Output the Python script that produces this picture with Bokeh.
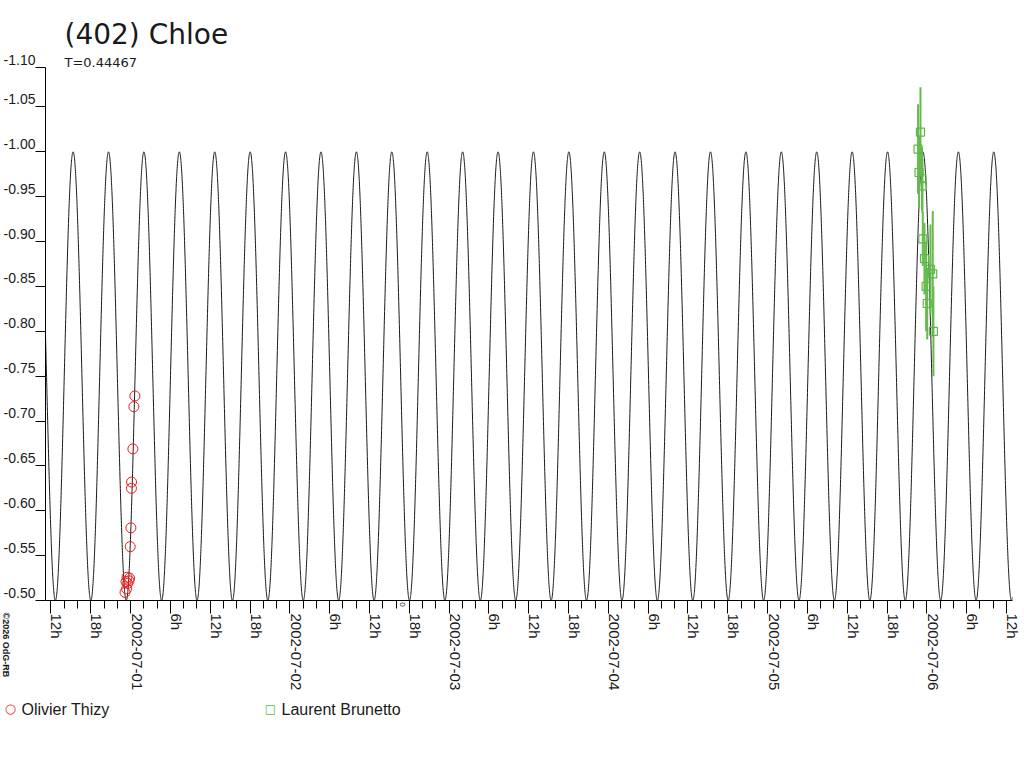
import math
import numpy as np
import pandas as pd
from bokeh.plotting import figure
from bokeh.models import FixedTicker, Range1d
from bokeh.embed import file_html
from bokeh.resources import INLINE
from bokeh.core.properties import value

# ---------------- data ----------------
title_text = "(402) Chloe"
period_text = "T=0.44467"
copyright_text = "\u00a92026 OdG-RB"

# model light curve parameters (double-peaked curve, period in days)
period_days = 0.44467
model_epoch = "2002-07-01 04:41"   # a faint extremum of the model (-0.50)
model_mean = -0.75
model_amplitude = 0.25
phase_zero_time = "2002-07-02 17:00"

x_start = "2002-06-30 11:11"
x_end = "2002-07-06 12:54"
y_bottom = -0.50
y_top = -1.094

y_tick_values = [-0.50, -0.55, -0.60, -0.65, -0.70, -0.75, -0.80, -0.85,
                 -0.90, -0.95, -1.00, -1.05, -1.094]
y_tick_labels = ["-0.50", "-0.55", "-0.60", "-0.65", "-0.70", "-0.75", "-0.80",
                 "-0.85", "-0.90", "-0.95", "-1.00", "-1.05", "-1.10"]

x_major_first = "2002-06-30 12:00"
x_major_last = "2002-07-06 12:00"
x_tick_labels = ["12h", "18h", "2002-07-01", "6h", "12h", "18h", "2002-07-02",
                 "6h", "12h", "18h", "2002-07-03", "6h", "12h", "18h",
                 "2002-07-04", "6h", "12h", "18h", "2002-07-05", "6h", "12h",
                 "18h", "2002-07-06", "6h", "12h"]

thizy_label = "Olivier Thizy"
thizy_time = ["2002-07-01 00:39", "2002-07-01 00:30", "2002-07-01 00:21",
              "2002-07-01 00:09", "2002-07-01 00:08", "2002-07-01 00:03",
              "2002-06-30 23:57", "2002-06-30 23:10", "2002-06-30 23:24",
              "2002-06-30 23:19", "2002-06-30 23:33", "2002-06-30 23:46",
              "2002-06-30 23:28", "2002-06-30 23:51"]
thizy_mag = [-0.728, -0.716, -0.669, -0.632, -0.625, -0.581, -0.560,
             -0.509, -0.513, -0.521, -0.519, -0.522, -0.526, -0.525]

brunetto_label = "Laurent Brunetto"
brunetto_time = ["2002-07-05 23:02", "2002-07-05 22:40", "2002-07-05 22:49",
                 "2002-07-05 23:16", "2002-07-05 23:20", "2002-07-05 23:23",
                 "2002-07-05 23:38", "2002-07-06 00:32", "2002-07-06 00:53",
                 "2002-07-05 23:53", "2002-07-06 00:03", "2002-07-06 00:59"]
brunetto_mag = [-1.022, -1.003, -0.977, -0.970, -0.962, -0.903, -0.881,
                -0.869, -0.864, -0.850, -0.831, -0.800]
brunetto_err = [0.050, 0.050, 0.040, 0.035, 0.030, 0.030, 0.040,
                0.050, 0.070, 0.050, 0.040, 0.050]

# ---------------- layout / style ----------------
W, H = 1020, 752
BL, BR, BT, BB = 45, 8, 67, 152          # borders around the plot frame
FONT = "Liberation Sans"
TITLE_FONT = "DejaVu Sans"
TXT = "#1a1a1a"
RED = "#ee1a1a"
GREEN = "#5cb848"

def ms(s):
    return pd.Timestamp(s).timestamp() * 1000.0

x0, x1 = ms(x_start), ms(x_end)
x_per_px = (x1 - x0) / (W - BL - BR)
y_per_px = (y_bottom - y_top) / (H - BT - BB)

x_major = [ms(t) for t in pd.date_range(x_major_first, x_major_last, freq="6h")]
x_minor = [ms(t) for t in pd.date_range(x_major_first, x_major_last, freq="2h")]

# model curve from the period
curve_t = np.linspace(x0, x1, 8000)
half_period_ms = period_days * 86400000.0 / 2.0
curve_y = model_mean + model_amplitude * np.cos(
    2 * np.pi * (curve_t - ms(model_epoch)) / half_period_ms)

rt = [ms(t) for t in thizy_time]
gt = [ms(t) for t in brunetto_time]
g_lo = [m - e for m, e in zip(brunetto_mag, brunetto_err)]
g_hi = [m + e for m, e in zip(brunetto_mag, brunetto_err)]

# ---------------- figure ----------------
p = figure(width=W, height=H, x_axis_type="datetime",
           x_range=Range1d(x0, x1), y_range=Range1d(y_bottom, y_top),
           output_backend="svg", toolbar_location=None,
           min_border_left=BL, min_border_right=BR,
           min_border_top=BT, min_border_bottom=BB)
p.xgrid.visible = False
p.ygrid.visible = False
p.outline_line_color = None
p.background_fill_color = "white"

xa = p.xaxis[0]
xa.ticker = FixedTicker(ticks=x_major, minor_ticks=x_minor)
xa.major_tick_out = 13
xa.major_tick_in = 0
xa.minor_tick_out = 8
xa.minor_tick_in = 0
xa.major_label_text_font_size = "1px"
xa.major_label_text_color = None
xa.axis_line_color = "black"
xa.major_tick_line_color = "black"
xa.minor_tick_line_color = "black"

ya = p.yaxis[0]
ya.ticker = FixedTicker(ticks=y_tick_values)
ya.major_tick_out = 10
ya.major_tick_in = 0
ya.minor_tick_line_color = None
ya.major_label_text_font_size = "1px"
ya.major_label_text_color = None
ya.axis_line_color = "black"
ya.major_tick_line_color = "black"

# model curve
p.line(curve_t, curve_y, line_color=TXT, line_width=1)

# error bars and points
p.segment(x0=gt, y0=g_lo, x1=gt, y1=g_hi, line_color="#66bb4c", line_width=2)
p.scatter(rt, thizy_mag, marker="circle", size=10, fill_color=None,
          line_color=RED, line_width=1)
p.scatter(gt, brunetto_mag, marker="square", size=8, fill_color=None,
          line_color=GREEN, line_width=1.2)

# y tick labels
p.text(x=[x0] * len(y_tick_values), y=y_tick_values, text=y_tick_labels,
       x_offset=-10, y_offset=-8, text_align="right", text_baseline="middle",
       text_font=value(FONT), text_font_size="14px", text_color=TXT,
       level="overlay")

# x tick labels (rotated, reading downwards)
p.text(x=x_major, y=[y_bottom] * len(x_major), text=x_tick_labels,
       angle=-math.pi / 2, x_offset=6, y_offset=13, text_align="left",
       text_baseline="middle", text_font=value(FONT), text_font_size="15px",
       text_color=TXT, level="overlay")

# phase-zero marker
p.text(x=[ms(phase_zero_time)], y=[y_bottom], text=["0"], angle=-math.pi / 2,
       x_offset=0, y_offset=4, text_align="center", text_baseline="middle",
       text_font=value(FONT), text_font_size="8px", text_color=TXT,
       level="overlay")

# title and period
p.text(x=[x0], y=[y_top], text=[title_text], x_offset=19, y_offset=-33,
       text_align="left", text_baseline="middle",
       text_font=value(TITLE_FONT), text_font_size="28px", text_color=TXT,
       level="overlay")
p.text(x=[x0], y=[y_top], text=[period_text], x_offset=19, y_offset=-5,
       text_align="left", text_baseline="middle",
       text_font=value(TITLE_FONT), text_font_size="13px", text_color=TXT,
       level="overlay")

# copyright (vertical, bottom-left)
p.text(x=[x0], y=[y_bottom], text=[copyright_text], angle=-math.pi / 2,
       x_offset=-40, y_offset=12, text_align="left", text_baseline="middle",
       text_font=value(FONT), text_font_size="9px", text_font_style="bold",
       text_color=TXT, level="overlay")

# legend row under the axis labels (offsets in px from frame bottom-left)
legend_dx = [-35, 225]
legend_dy = 109
legend_x = [x0 + d * x_per_px for d in legend_dx]
legend_y = y_bottom + legend_dy * y_per_px
p.text(x=[legend_x[0]], y=[legend_y], text=["\u25cb"], text_align="center",
       text_baseline="middle", y_offset=-1, text_font=value("DejaVu Sans"),
       text_font_size="13px", text_color=RED, level="overlay")
p.text(x=[legend_x[1]], y=[legend_y], text=["\u25a1"], text_align="center",
       text_baseline="middle", y_offset=-1, text_font=value("DejaVu Sans"),
       text_font_size="12px", text_color=GREEN, level="overlay")
p.text(x=legend_x, y=[legend_y, legend_y], text=[thizy_label, brunetto_label],
       x_offset=11, y_offset=0, text_align="left", text_baseline="middle",
       text_font=value(FONT), text_font_size="16px", text_color=TXT,
       level="overlay")

open("out.html", "w").write(file_html(p, INLINE))
